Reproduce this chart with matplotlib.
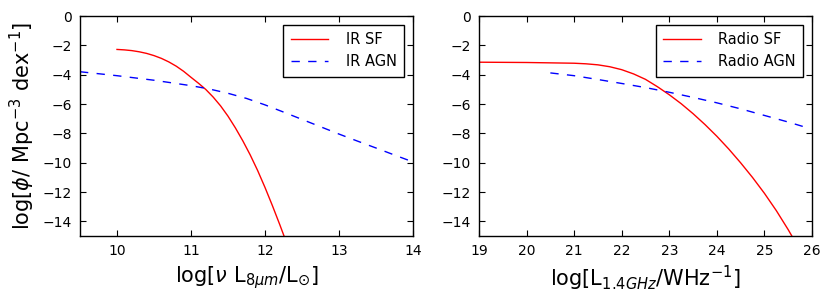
import matplotlib
matplotlib.use("Agg")
import matplotlib.pyplot as plt

# IR panel data
ir_sf_x = [10.0, 10.1, 10.2, 10.3, 10.4, 10.5, 10.6, 10.7, 10.8, 10.9, 11.0, 11.1, 11.2,
           11.3, 11.4, 11.5, 11.6, 11.7, 11.8, 11.9, 12.0, 12.1, 12.2, 12.26]
ir_sf_y = [-2.28, -2.31, -2.36, -2.44, -2.55, -2.70, -2.89, -3.13, -3.42, -3.77, -4.18, -4.58, -5.01,
           -5.53, -6.13, -6.83, -7.63, -8.51, -9.47, -10.53, -11.69, -12.93, -14.23, -15.04]
ir_agn_x = [9.5, 10.0, 10.5, 11.0, 11.25, 11.5, 11.75, 12.0, 12.25, 12.5, 12.75, 13.0, 13.25, 13.5, 13.75, 14.0]
ir_agn_y = [-3.8, -4.07, -4.38, -4.75, -4.98, -5.27, -5.62, -6.06, -6.55, -7.05, -7.55, -8.05, -8.53, -9.0, -9.48, -9.95]

# Radio panel data
rad_sf_x = [19.0, 20.0, 21.0, 21.25, 21.5, 21.75, 22.0, 22.25, 22.5, 22.75, 23.0, 23.25, 23.5,
            23.75, 24.0, 24.25, 24.5, 24.75, 25.0, 25.25, 25.5, 25.58]
rad_sf_y = [-3.15, -3.17, -3.22, -3.26, -3.33, -3.46, -3.66, -3.95, -4.32, -4.82, -5.37, -5.98, -6.66,
            -7.40, -8.20, -9.07, -10.01, -11.01, -12.09, -13.27, -14.57, -15.02]
rad_agn_x = [20.5, 21.0, 21.5, 22.0, 22.5, 23.0, 23.5, 24.0, 24.5, 25.0, 25.5, 25.9]
rad_agn_y = [-3.88, -4.07, -4.33, -4.6, -4.88, -5.2, -5.55, -5.92, -6.33, -6.78, -7.23, -7.62]

y_ticks = [0, -2, -4, -6, -8, -10, -12, -14]
ir_xticks = [10, 11, 12, 13, 14]
rad_xticks = [19, 20, 21, 22, 23, 24, 25, 26]

plt.rcParams['font.family'] = ['DejaVu Sans']
plt.rcParams['mathtext.fontset'] = 'dejavusans'

fig = plt.figure(figsize=(8.31, 2.99), dpi=100)
W, H = 831, 299
ax1 = fig.add_axes([80 / W, (H - 236) / H, 333 / W, 220 / H])
ax2 = fig.add_axes([479 / W, (H - 236) / H, 333 / W, 220 / H])

def style(ax):
    ax.tick_params(direction='in', top=True, right=True, length=4, width=0.8,
                   labelsize=10, pad=6)
    for s in ax.spines.values():
        s.set_linewidth(1.0)
    ax.set_ylim(-15, 0)
    ax.set_yticks(y_ticks)

ax1.plot(ir_sf_x, ir_sf_y, color='red', lw=1.0, label='IR SF')
ax1.plot(ir_agn_x, ir_agn_y, color='blue', lw=1.0, ls=(0, (6, 6)), label='IR AGN')
ax1.set_xlim(9.5, 14)
ax1.set_xticks(ir_xticks)
style(ax1)
ax1.set_xlabel(r'log[$\nu$ L$_{8\mu m}$/L$_{\odot}$]', fontsize=15)
ax1.set_ylabel(r'log[$\phi$/ Mpc$^{-3}$ dex$^{-1}$]', fontsize=15)

ax2.plot(rad_sf_x, rad_sf_y, color='red', lw=1.0, label='Radio SF')
ax2.plot(rad_agn_x, rad_agn_y, color='blue', lw=1.0, ls=(0, (6, 6)), label='Radio AGN')
ax2.set_xlim(19, 26)
ax2.set_xticks(rad_xticks)
style(ax2)
ax2.set_xlabel(r'log[L$_{1.4GHz}$/WHz$^{-1}$]', fontsize=15)

for ax in (ax1, ax2):
    leg = ax.legend(loc='upper right', fontsize=10.5, fancybox=False,
                    edgecolor='black', framealpha=1, borderaxespad=0.6,
                    handlelength=2.6, handletextpad=1.2, borderpad=0.5)
    leg.get_frame().set_linewidth(1.0)

fig.savefig('out.png', dpi=100, facecolor='white')
